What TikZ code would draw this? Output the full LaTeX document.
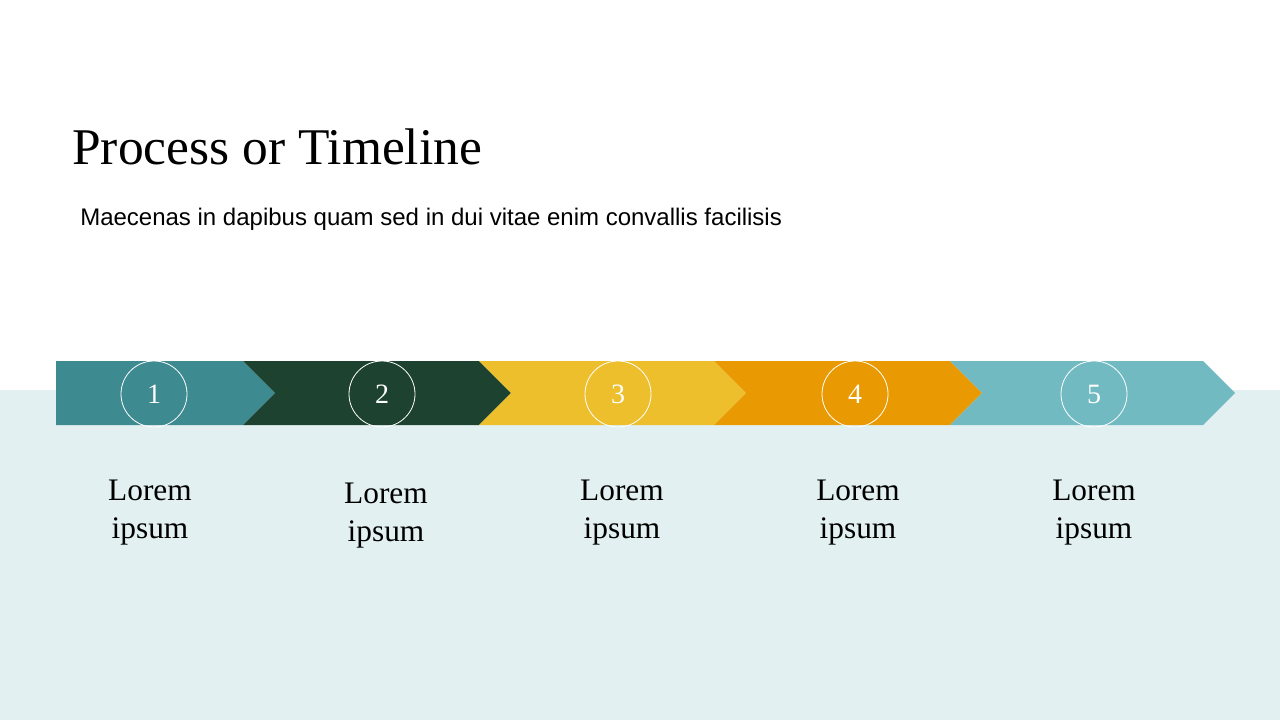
\documentclass[tikz,border=0pt]{standalone}
\usepackage{fontspec}
\setmainfont{Liberation Serif}
\newfontfamily\sansf{Liberation Sans}
\definecolor{cA}{HTML}{3D8A91}
\definecolor{cB}{HTML}{1D422F}
\definecolor{cC}{HTML}{EDBF2D}
\definecolor{cD}{HTML}{E99A02}
\definecolor{cE}{HTML}{72BAC2}
\definecolor{band}{HTML}{E2F0F1}
\tikzset{
  numcirc/.style={circle, draw=white, line width=0.6pt, minimum size=49.5pt, inner sep=0pt, text=white, font=\fontsize{21}{24}\selectfont},
  lorem/.style={align=center, inner sep=0pt, font=\fontsize{23.5}{28}\selectfont},
}
\begin{document}
\begin{tikzpicture}[x=0.75pt,y=-0.75pt]
\useasboundingbox (0,0) rectangle (1280,720);
\fill[white] (0,0) rectangle (1280,720);
\fill[band] (0,390) rectangle (1280,720);
% chevrons
\fill[cA] (56,361) -- (243,361) -- (275,393) -- (243,425) -- (56,425) -- cycle;
\fill[cB] (243,361) -- (479,361) -- (511,393) -- (479,425) -- (243,425) -- (275,393) -- cycle;
\fill[cC] (479,361) -- (714,361) -- (746,393) -- (714,425) -- (479,425) -- (511,393) -- cycle;
\fill[cD] (714,361) -- (950,361) -- (982,393) -- (950,425) -- (714,425) -- (746,393) -- cycle;
\fill[cE] (950,361) -- (1203,361) -- (1235,393) -- (1203,425) -- (950,425) -- (982,393) -- cycle;
% circles
\node[numcirc] (n1) at (154,394) {1};
\node[numcirc] (n2) at (382,394) {2};
\node[numcirc] (n3) at (618,394) {3};
\node[numcirc] (n4) at (855,394) {4};
\node[numcirc] (n5) at (1094,394) {5};
% title
\node[anchor=base west, inner sep=0pt, font=\fontsize{38.6}{46}\selectfont] (title) at (72,165) {Process or Timeline};
\node[anchor=base west, inner sep=0pt, font=\sansf\fontsize{18}{21}\selectfont] (sub) at (80,225) {Maecenas in dapibus quam sed in dui vitae enim convallis facilisis};
% labels
\node[lorem, anchor=base] (l1) at (150,538) {Lorem\\ipsum};
\node[lorem, anchor=base] (l2) at (386,541) {Lorem\\ipsum};
\node[lorem, anchor=base] (l3) at (622,538) {Lorem\\ipsum};
\node[lorem, anchor=base] (l4) at (858,538) {Lorem\\ipsum};
\node[lorem, anchor=base] (l5) at (1094,538) {Lorem\\ipsum};
\end{tikzpicture}
\end{document}
